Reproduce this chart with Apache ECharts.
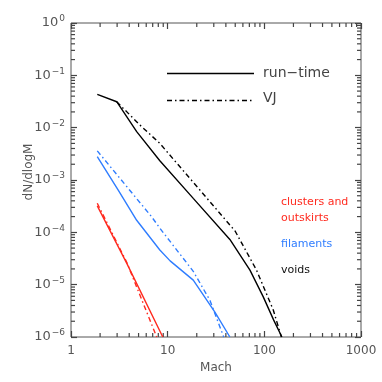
<!DOCTYPE html>
<html>
<head>
<meta charset="utf-8">
<script src="https://cdn.jsdelivr.net/npm/echarts@6/dist/echarts.min.js"></script>
<style>
  html, body { margin: 0; padding: 0; background: #fff; }
  #chart { width: 382px; height: 382px; }
</style>
</head>
<body>
<div id="chart"></div>
<script>
// voids (black)
var voidsRunMach = [1.87, 2.97, 4.78, 8.3, 18.4, 44, 71, 97.5, 125, 152];
var voidsRunN    = [0.0434, 0.0313, 8.4e-3, 2.33e-3, 4.45e-4, 7.3e-5, 1.9e-5, 5.85e-6, 2.1e-6, 1e-6];
var voidsVJMach  = [2.97, 5.17, 8.3, 21.6, 50, 83, 124, 150];
var voidsVJN     = [0.0313, 0.0112, 5.0e-3, 6.4e-4, 1.05e-4, 1.9e-5, 3.25e-6, 1e-6];
// filaments (blue)
var filRunMach = [1.87, 3.08, 4.78, 8.3, 10.6, 18.4, 30.8, 44];
var filRunN    = [2.8e-3, 6.4e-4, 1.7e-4, 4.6e-5, 2.85e-5, 1.22e-5, 3.0e-6, 1e-6];
var filVJMach  = [1.87, 6.8, 8.3, 18.4, 27.4, 38];
var filVJN     = [3.6e-3, 2.0e-4, 1.2e-4, 1.8e-5, 5e-6, 1e-6];
// clusters and outskirts (red)
var clRunMach = [1.87, 3.8, 8.9];
var clRunN    = [3.2e-4, 2.5e-5, 1e-6];
var clVJMach  = [1.87, 3.8, 7.7];
var clVJN     = [3.6e-4, 2.6e-5, 1e-6];

var RED = '#ff2a1f', BLUE = '#2f7dff', BLACK = '#000000';
var AXIS = '#444444', TXT = '#555555';
var DASHDOT = [5, 3, 1.5, 3];

function pairs(xs, ys) {
  return xs.map(function (x, i) { return [x, ys[i]]; });
}

function mkLine(name, xs, ys, color, dash) {
  return {
    name: name,
    type: 'line',
    data: pairs(xs, ys),
    symbol: 'none',
    silent: true,
    lineStyle: { color: color, width: 1.4, type: dash ? DASHDOT : 'solid' }
  };
}

var chart = echarts.init(document.getElementById('chart'));

function tick() {
  return { show: true, inside: true, length: 6, lineStyle: { color: AXIS, width: 1.2 } };
}

var option = {
  animation: false,
  grid: { left: 71, right: 21, top: 23, bottom: 45, show: true, borderColor: '#555', borderWidth: 1 },
  xAxis: [{
    type: 'log', min: 1, max: 1000,
    name: 'Mach', nameLocation: 'middle', nameGap: 22,
    nameTextStyle: { color: TXT, fontSize: 12, fontFamily: 'DejaVu Sans' },
    axisLine: { show: false },
    axisTick: tick(),
    axisLabel: {
      color: TXT, fontSize: 12, fontFamily: 'DejaVu Sans', margin: 8,
      formatter: function (v) { return String(Math.round(v)); }
    },
    splitLine: { show: false }
  }, {
    type: 'log', min: 1, max: 1000, position: 'top',
    axisLine: { show: false },
    axisTick: tick(),
    axisLabel: { show: false },
    splitLine: { show: false }
  }],
  yAxis: [{
    type: 'log', min: 1e-6, max: 1,
    axisLine: { show: false },
    axisTick: tick(),
    axisLabel: {
      color: TXT, fontFamily: 'DejaVu Sans', margin: 6,
      formatter: function (v) {
        var e = Math.round(Math.log10(v));
        return '{b|10}{s|' + (e < 0 ? '\u2212' + (-e) : e) + '}';
      },
      rich: {
        b: { fontSize: 13, color: TXT, fontFamily: 'DejaVu Sans' },
        s: { fontSize: 9, color: TXT, fontFamily: 'DejaVu Sans', verticalAlign: 'top', padding: [0, 0, 8, 1] }
      }
    },
    splitLine: { show: false }
  }, {
    type: 'log', min: 1e-6, max: 1, position: 'right',
    axisLine: { show: false },
    axisTick: tick(),
    axisLabel: { show: false },
    splitLine: { show: false }
  }],
  series: [
    mkLine('clusters run-time', clRunMach, clRunN, RED, false),
    mkLine('clusters VJ', clVJMach, clVJN, RED, true),
    mkLine('filaments run-time', filRunMach, filRunN, BLUE, false),
    mkLine('filaments VJ', filVJMach, filVJN, BLUE, true),
    mkLine('voids run-time', voidsRunMach, voidsRunN, BLACK, false),
    mkLine('voids VJ', voidsVJMach, voidsVJN, BLACK, true)
  ]
};
chart.setOption(option);

var g = [];
function seg(x1, y1, x2, y2) {
  g.push({
    type: 'line', silent: true,
    shape: { x1: x1, y1: y1, x2: x2, y2: y2 },
    style: { stroke: AXIS, lineWidth: 1.2 }
  });
}

// minor ticks on all four sides
var xL = chart.convertToPixel({ xAxisIndex: 0 }, 1);
var xR = chart.convertToPixel({ xAxisIndex: 0 }, 1000);
var yB = chart.convertToPixel({ yAxisIndex: 0 }, 1e-6);
var yT = chart.convertToPixel({ yAxisIndex: 0 }, 1);
for (var d = 0; d < 3; d++) {
  for (var k = 2; k <= 9; k++) {
    var px = chart.convertToPixel({ xAxisIndex: 0 }, k * Math.pow(10, d));
    seg(px, yB, px, yB - 4);
    seg(px, yT, px, yT + 4);
  }
}
for (var d2 = -6; d2 < 0; d2++) {
  for (var k2 = 2; k2 <= 9; k2++) {
    var py = chart.convertToPixel({ yAxisIndex: 0 }, k2 * Math.pow(10, d2));
    seg(xL, py, xL + 4, py);
    seg(xR, py, xR - 4, py);
  }
}

// legend keys
g.push({ type: 'line', silent: true, shape: { x1: 167, y1: 73.5, x2: 254, y2: 73.5 }, style: { stroke: BLACK, lineWidth: 1.4 } });
g.push({ type: 'text', silent: true, x: 263, y: 73, style: { text: 'run\u2212time', fill: '#444', fontSize: 14, fontFamily: 'DejaVu Sans', verticalAlign: 'middle' } });
g.push({ type: 'line', silent: true, shape: { x1: 167, y1: 100.5, x2: 254, y2: 100.5 }, style: { stroke: BLACK, lineWidth: 1.4, lineDash: DASHDOT } });
g.push({ type: 'text', silent: true, x: 263, y: 98, style: { text: 'VJ', fill: '#444', fontSize: 14, fontFamily: 'DejaVu Sans', verticalAlign: 'middle' } });

// region labels
function label(txt, y, color) {
  g.push({ type: 'text', silent: true, x: 281, y: y,
    style: { text: txt, fill: color, fontSize: 11, fontFamily: 'DejaVu Sans', verticalAlign: 'middle' } });
}
label('clusters and', 202, RED);
label('outskirts', 218, RED);
label('filaments', 244, BLUE);
label('voids', 270, '#111');

// y axis title
g.push({ type: 'text', silent: true, x: 29, y: 172, rotation: Math.PI / 2,
  style: { text: 'dN/dlogM', fill: TXT, fontSize: 12, fontFamily: 'DejaVu Sans', align: 'center', verticalAlign: 'middle' } });

chart.setOption({ graphic: g });
</script>
</body>
</html>
